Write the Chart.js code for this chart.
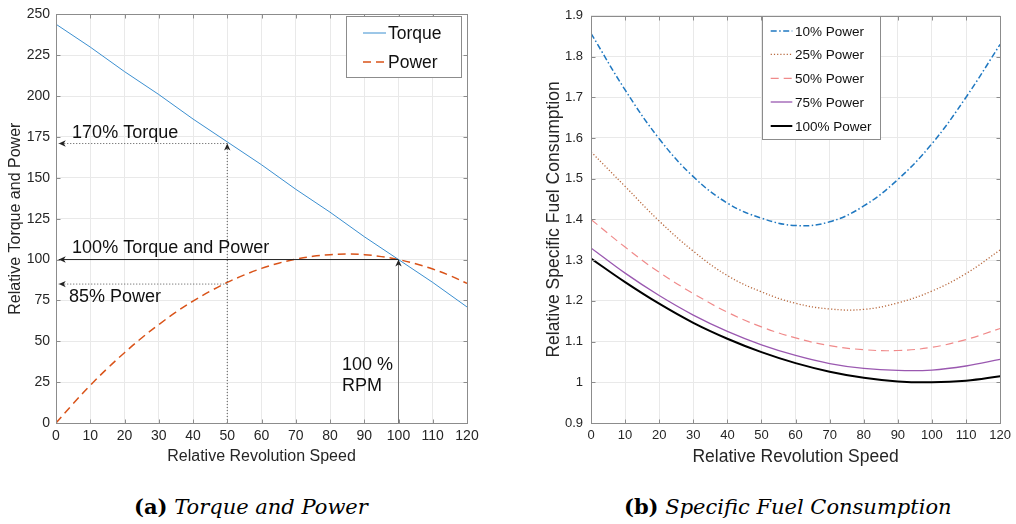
<!DOCTYPE html>
<html>
<head>
<meta charset="utf-8">
<script src="https://cdn.jsdelivr.net/npm/chart.js@4.4.1/dist/chart.umd.min.js"></script>
<style>
  html, body { margin: 0; padding: 0; background: #fff; }
  body { width: 1016px; height: 524px; position: relative; overflow: hidden; }
  .panel { position: absolute; top: 0; height: 480px; }
  #p1 { left: 0; width: 490px; }
  #p2 { left: 530px; width: 486px; }
  .cap { position: absolute; top: 494px; font-family: "DejaVu Serif", serif; font-size: 21px; color: #000; white-space: nowrap; }
  .cap b { font-weight: bold; }
  .cap i { font-style: italic; }
</style>
</head>
<body>
<div class="panel" id="p1"><canvas id="graficoPar"></canvas></div>
<div class="panel" id="p2"><canvas id="graficoConsumo"></canvas></div>
<div class="cap" style="left:134px"><b>(a)</b> <i>Torque and Power</i></div>
<div class="cap" style="left:624px"><b>(b)</b> <i>Specific Fuel Consumption</i></div>

<script>
// Datos (a)
const velocidad = [0, 10, 20, 30, 40, 50, 60, 70, 80, 90, 100, 110, 120];
const parMotor = [244, 230, 215, 201, 186, 172, 158, 143, 129, 114, 100, 86, 71];
const velocidadPotencia = [0, 5, 10, 15, 20, 25, 30, 35, 40, 45, 50, 55, 60, 65, 70, 75, 80, 85, 90, 95, 100, 105, 110, 115, 120];
const potencia = [0, 11.8, 23, 33.4, 43, 52, 60.2, 67.8, 74.6, 80.6, 86, 90.6, 94.6, 97.8, 100.2, 102, 103, 103.4, 103, 101.8, 100, 97.4, 94.2, 90.2, 85.4];

// Flechas de la figura (a): [x inicio, y inicio, x fin, y fin]
const flechaPar170 = [50, 171, 0.8, 171];
const flechaVertical50 = [50, 0, 50, 171];
const flechaPot85 = [50, 85, 0.8, 85];
const flechaNominal = [100, 100, 0.8, 100];
const flechaRpm = [100, 0, 100, 100];

// Textos de la figura (a)
const textosA = [
    { texto: '170% Torque', x: 4.7, y: 177.5 },
    { texto: '100% Torque and Power', x: 4.7, y: 107 },
    { texto: '85% Power', x: 3.8, y: 77 },
    { texto: '100 %', x: 83.5, y: 35.5 },
    { texto: 'RPM', x: 83.5, y: 22.5 }
];

// Datos (b)
const consumo10 = [1.857, 1.718, 1.598, 1.505, 1.440, 1.403, 1.385, 1.394, 1.433, 1.498, 1.586, 1.700, 1.830];
const consumo25 = [1.566, 1.481, 1.396, 1.322, 1.262, 1.222, 1.194, 1.180, 1.179, 1.195, 1.224, 1.267, 1.325];
const consumo50 = [1.400, 1.332, 1.270, 1.218, 1.172, 1.136, 1.109, 1.090, 1.080, 1.078, 1.086, 1.105, 1.132];
const consumo75 = [1.330, 1.268, 1.213, 1.165, 1.125, 1.092, 1.066, 1.046, 1.034, 1.029, 1.030, 1.040, 1.056];
const consumo100 = [1.304, 1.246, 1.193, 1.146, 1.107, 1.074, 1.047, 1.026, 1.011, 1.002, 1.000, 1.004, 1.015];

const fuente = '"Liberation Sans", Arial, Helvetica, sans-serif';
const colorTexto = '#262626';
const colorEje = '#8c8c8c';
const colorRejilla = '#e9e9e9';

function puntos(xs, ys) {
    return xs.map((v, i) => ({ x: v, y: ys[i] }));
}

function datasetFlecha(f, color, dash, ancho) {
    return {
        data: [{ x: f[0], y: f[1] }, { x: f[2], y: f[3] }],
        borderColor: color,
        borderDash: dash,
        borderWidth: ancho,
        pointRadius: 0,
        tension: 0,
        esFlecha: true
    };
}

// Marco y marcas interiores estilo MATLAB
const marcoPlugin = {
    id: 'marco',
    afterDraw(chart) {
        const { ctx, chartArea: a, scales: { x, y } } = chart;
        const l = Math.round(a.left) + 0.5, r = Math.round(a.right) + 0.5;
        const t = Math.round(a.top) + 0.5, b = Math.round(a.bottom) + 0.5;
        ctx.save();
        ctx.strokeStyle = colorEje;
        ctx.lineWidth = 1;
        ctx.setLineDash([]);
        ctx.beginPath();
        x.ticks.forEach(tk => {
            const px = Math.round(x.getPixelForValue(tk.value)) + 0.5;
            ctx.moveTo(px, b); ctx.lineTo(px, b - 4);
            ctx.moveTo(px, t); ctx.lineTo(px, t + 4);
        });
        y.ticks.forEach(tk => {
            const py = Math.round(y.getPixelForValue(tk.value)) + 0.5;
            ctx.moveTo(l, py); ctx.lineTo(l + 4, py);
            ctx.moveTo(r, py); ctx.lineTo(r - 4, py);
        });
        ctx.stroke();
        ctx.strokeRect(l, t, r - l, b - t);
        ctx.restore();
    }
};

// Puntas de flecha y textos de la figura (a)
const flechasPlugin = {
    id: 'flechas',
    afterDatasetsDraw(chart, args, opts) {
        const { ctx, scales: { x, y } } = chart;
        ctx.save();
        chart.data.datasets.forEach(ds => {
            if (!ds.esFlecha) return;
            const x0 = x.getPixelForValue(ds.data[0].x), y0 = y.getPixelForValue(ds.data[0].y);
            const x1 = x.getPixelForValue(ds.data[1].x), y1 = y.getPixelForValue(ds.data[1].y);
            const ang = Math.atan2(y1 - y0, x1 - x0);
            const largo = 7, medio = 3.2, hueco = 2;
            ctx.save();
            ctx.translate(x1, y1);
            ctx.rotate(ang);
            ctx.fillStyle = '#222';
            ctx.beginPath();
            ctx.moveTo(0, 0);
            ctx.lineTo(-largo, -medio);
            ctx.lineTo(-largo + hueco, 0);
            ctx.lineTo(-largo, medio);
            ctx.closePath();
            ctx.fill();
            ctx.restore();
        });
        ctx.font = '18px ' + fuente;
        ctx.fillStyle = '#111';
        ctx.textBaseline = 'middle';
        (opts.textos || []).forEach(t => {
            ctx.fillText(t.texto, x.getPixelForValue(t.x), y.getPixelForValue(t.y));
        });
        ctx.restore();
    }
};

// Leyenda dentro del área del gráfico
const leyendaPlugin = {
    id: 'leyendaMatlab',
    afterDraw(chart, args, opts) {
        const ctx = chart.ctx;
        const [bx, by, bw, bh] = opts.caja;
        const series = chart.data.datasets.filter(ds => ds.label);
        ctx.save();
        ctx.fillStyle = '#fff';
        ctx.fillRect(bx, by, bw, bh);
        ctx.strokeStyle = colorEje;
        ctx.lineWidth = 1;
        ctx.strokeRect(bx + 0.5, by + 0.5, bw, bh);
        ctx.font = opts.fuente;
        ctx.textBaseline = 'middle';
        series.forEach((ds, i) => {
            const yy = opts.filas[i];
            ctx.beginPath();
            ctx.setLineDash(ds.borderDash || []);
            ctx.strokeStyle = ds.borderColor;
            ctx.lineWidth = ds.borderWidth;
            ctx.moveTo(opts.muestra[0], yy);
            ctx.lineTo(opts.muestra[1], yy);
            ctx.stroke();
            ctx.setLineDash([]);
            ctx.fillStyle = '#111';
            ctx.fillText(ds.label, opts.textoX, yy + 1);
        });
        ctx.restore();
    }
};

function ejeX(tamTitulo, tamTicks, padTitulo) {
    return {
        type: 'linear', min: 0, max: 120,
        afterFit: s => { s.height = 57; },
        ticks: { stepSize: 10, autoSkip: false, maxRotation: 0, padding: 5, color: colorTexto, font: { family: fuente, size: tamTicks } },
        grid: { color: colorRejilla, drawTicks: false },
        border: { display: false },
        title: { display: true, text: 'Relative Revolution Speed', color: colorTexto, font: { family: fuente, size: tamTitulo }, padding: { top: 0, bottom: padTitulo } }
    };
}

// Gráfico (a): par y potencia
new Chart(document.getElementById('graficoPar'), {
    type: 'line',
    data: {
        datasets: [
            datasetFlecha(flechaNominal, '#222', [], 1),
            datasetFlecha(flechaRpm, '#777', [], 1),
            datasetFlecha(flechaPar170, '#555', [1, 2], 1),
            datasetFlecha(flechaVertical50, '#555', [1, 2], 1),
            datasetFlecha(flechaPot85, '#555', [1, 2], 1),
            {
                label: 'Torque',
                data: puntos(velocidad, parMotor),
                borderColor: '#3b8fd0',
                borderWidth: 1,
                borderDash: [],
                pointRadius: 0,
                tension: 0
            },
            {
                label: 'Power',
                data: puntos(velocidadPotencia, potencia),
                borderColor: '#D95319',
                borderWidth: 1.5,
                borderDash: [8, 5],
                pointRadius: 0,
                tension: 0.4
            }
        ]
    },
    options: {
        responsive: true,
        maintainAspectRatio: false,
        animation: false,
        layout: { padding: { left: 0, top: 13, right: 23, bottom: 0 }, autoPadding: false },
        plugins: {
            legend: { display: false },
            tooltip: { enabled: false },
            flechas: { textos: textosA },
            leyendaMatlab: { caja: [346, 16, 115, 61], filas: [33, 62], muestra: [363, 386], textoX: 388, fuente: '17.5px ' + fuente }
        },
        scales: {
            x: ejeX(16, 14, 13.4),
            y: {
                min: 0, max: 250,
                afterFit: s => { s.width = 56; },
                ticks: { stepSize: 25, padding: 6, color: colorTexto, font: { family: fuente, size: 14 } },
                grid: { color: colorRejilla, drawTicks: false },
                border: { display: false },
                title: { display: true, text: 'Relative Torque and Power', color: colorTexto, font: { family: fuente, size: 16 }, padding: { top: 5.9, bottom: 0 } }
            }
        }
    },
    plugins: [marcoPlugin, flechasPlugin, leyendaPlugin]
});

// Gráfico (b): consumo específico
new Chart(document.getElementById('graficoConsumo'), {
    type: 'line',
    data: {
        datasets: [
            { label: '10% Power', data: puntos(velocidad, consumo10), borderColor: '#1f78c1', borderWidth: 1.5, borderDash: [6, 2.5, 1.5, 2.5], pointRadius: 0, tension: 0.4 },
            { label: '25% Power', data: puntos(velocidad, consumo25), borderColor: '#b8693e', borderWidth: 1.3, borderDash: [1.2, 2], pointRadius: 0, tension: 0.4 },
            { label: '50% Power', data: puntos(velocidad, consumo50), borderColor: '#f08a8a', borderWidth: 1.2, borderDash: [8, 5], pointRadius: 0, tension: 0.4 },
            { label: '75% Power', data: puntos(velocidad, consumo75), borderColor: '#9a58b0', borderWidth: 1.3, borderDash: [], pointRadius: 0, tension: 0.4 },
            { label: '100% Power', data: puntos(velocidad, consumo100), borderColor: '#000000', borderWidth: 2, borderDash: [], pointRadius: 0, tension: 0.4 }
        ]
    },
    options: {
        responsive: true,
        maintainAspectRatio: false,
        animation: false,
        layout: { padding: { left: 0, top: 13, right: 14, bottom: 0 }, autoPadding: false },
        plugins: {
            legend: { display: false },
            tooltip: { enabled: false },
            leyendaMatlab: { caja: [232, 16, 118, 123], filas: [31, 54.3, 78.3, 102, 126], muestra: [240.7, 262.3], textoX: 265, fuente: '13.5px ' + fuente }
        },
        scales: {
            x: ejeX(17.5, 13, 12.5),
            y: {
                min: 0.9, max: 1.9,
                afterFit: s => { s.width = 61; },
                ticks: { stepSize: 0.1, padding: 8, color: colorTexto, font: { family: fuente, size: 13 },
                    callback: v => String(Math.round(v * 10) / 10) },
                grid: { color: colorRejilla, drawTicks: false },
                border: { display: false },
                title: { display: true, text: 'Relative Specific Fuel Consumption', color: colorTexto, font: { family: fuente, size: 17.5 }, padding: { top: 13.5, bottom: 0 } }
            }
        }
    },
    plugins: [marcoPlugin, leyendaPlugin]
});
</script>
</body>
</html>
